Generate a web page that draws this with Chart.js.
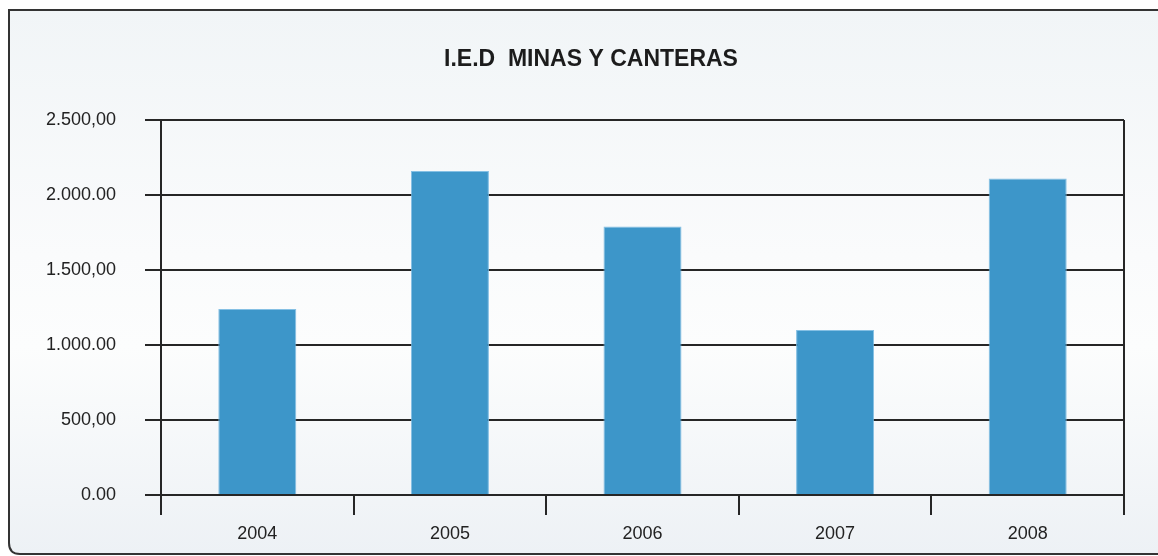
<!DOCTYPE html>
<html>
<head>
<meta charset="utf-8">
<script src="https://cdn.jsdelivr.net/npm/chart.js@4/dist/chart.umd.min.js"></script>
<style>
  html, body { margin: 0; padding: 0; background: #ffffff; }
  #wrap { width: 1158px; height: 556px; position: relative; }
  #iedChart { display: block; }
</style>
</head>
<body>
<div id="wrap"><canvas id="iedChart" width="1158" height="556"></canvas></div>
<script>
var chartTitle = 'I.E.D  MINAS Y CANTERAS';
var years = ['2004', '2005', '2006', '2007', '2008'];
var iedValues = [1240, 2160, 1790, 1100, 2110];
var yTickValues = [0, 500, 1000, 1500, 2000, 2500];
var yTickLabels = ['0.00', '500,00', '1.000.00', '1.500,00', '2.000.00', '2.500,00'];

var lineColor = '#262626';
var barColor = 'rgb(61, 150, 201)';
var fontFamily = '"Liberation Sans", Arial, sans-serif';

// rounded panel behind the chart, open on the right and bottom
var panelPlugin = {
    id: 'panel',
    beforeDraw: function (chart) {
        var c = chart.ctx;
        var w = chart.width, h = chart.height;
        c.save();
        c.fillStyle = '#ffffff';
        c.fillRect(0, 0, w, h);

        var left = 9, top = 10, bottom = 554, r = 11;
        c.beginPath();
        c.moveTo(w + 5, top);
        c.lineTo(left, top);
        c.lineTo(left, bottom - r);
        c.quadraticCurveTo(left, bottom, left + r, bottom);
        c.lineTo(w + 5, bottom);
        c.closePath();

        var g = c.createLinearGradient(0, top, 0, bottom);
        g.addColorStop(0, '#f1f5f7');
        g.addColorStop(0.45, '#fafbfc');
        g.addColorStop(0.62, '#fcfdfd');
        g.addColorStop(1, '#edf1f5');
        c.fillStyle = g;
        c.fill();
        c.lineWidth = 2;
        c.strokeStyle = '#333333';
        c.stroke();
        c.restore();
    }
};

// heading sits a little left of the plot centre
var headingPlugin = {
    id: 'heading',
    afterDraw: function (chart) {
        var c = chart.ctx;
        c.save();
        c.font = 'bold 23px ' + fontFamily;
        c.fillStyle = '#1c1c1c';
        c.textAlign = 'center';
        c.textBaseline = 'middle';
        c.fillText(chartTitle, 591, 60);
        c.restore();
    }
};

var ctx = document.getElementById('iedChart').getContext('2d');
var iedChart = new Chart(ctx, {
    type: 'bar',
    data: {
        labels: years,
        datasets: [{
            label: 'I.E.D',
            data: iedValues,
            backgroundColor: barColor,
            borderColor: 'rgba(120, 185, 225, 0.9)',
            borderWidth: { top: 1, left: 1, right: 1, bottom: 0 },
            borderSkipped: 'bottom',
            barPercentage: 0.405,
            categoryPercentage: 1.0
        }]
    },
    options: {
        responsive: false,
        animation: false,
        devicePixelRatio: 1,
        layout: {
            padding: { left: 9, right: 34, top: 120, bottom: 0 }
        },
        plugins: {
            legend: { display: false },
            tooltip: { enabled: false },
            title: { display: false }
        },
        scales: {
            x: {
                offset: true,
                afterFit: function (scale) { scale.height = 61; },
                border: { display: false },
                grid: {
                    offset: true,
                    drawOnChartArea: true,
                    drawTicks: true,
                    tickLength: 20,
                    lineWidth: 2,
                    tickWidth: 2,
                    tickColor: lineColor,
                    // only the outer edges run up through the plot
                    color: function (c) {
                        return (c.type === 'scale' || c.index === 0) ? lineColor : 'rgba(0,0,0,0)';
                    }
                },
                ticks: {
                    color: '#222222',
                    padding: 8,
                    font: { family: fontFamily, size: 18 }
                }
            },
            y: {
                min: 0,
                max: 2500,
                afterFit: function (scale) { scale.width = 152; },
                afterBuildTicks: function (scale) {
                    scale.ticks = yTickValues.map(function (v) { return { value: v }; });
                },
                border: { display: true, color: lineColor, width: 2 },
                grid: {
                    color: lineColor,
                    lineWidth: 2,
                    drawTicks: true,
                    tickLength: 16
                },
                ticks: {
                    color: '#222222',
                    padding: 29,
                    font: { family: fontFamily, size: 18 },
                    callback: function (value) {
                        var i = yTickValues.indexOf(value);
                        return i >= 0 ? yTickLabels[i] : '';
                    }
                }
            }
        }
    },
    plugins: [panelPlugin, headingPlugin]
});
</script>
</body>
</html>
